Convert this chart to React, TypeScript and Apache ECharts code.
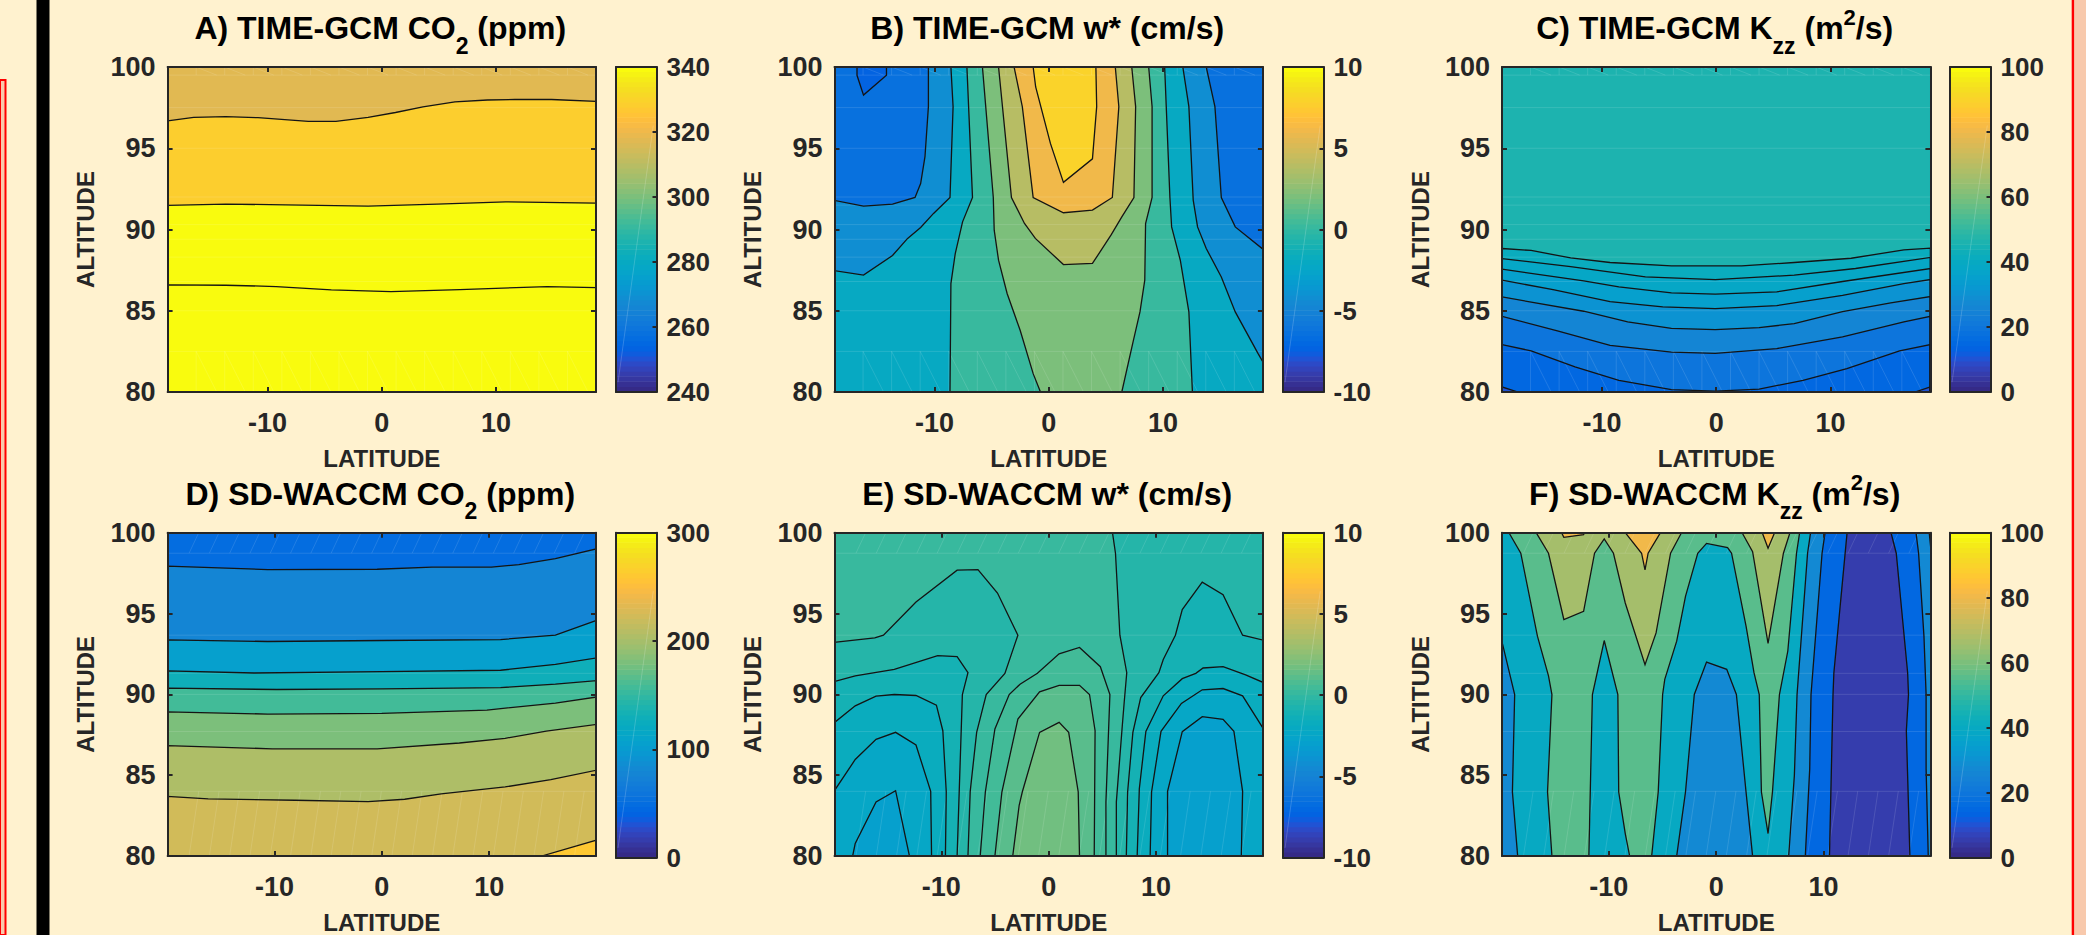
import React, { useEffect, useRef } from "react";
import * as echarts from "echarts";

const FONT = "'Liberation Sans', Arial, sans-serif";
const INK = "#262626";
const PAGE = "#FFF2CF";

const PARULA = [
  [0.2081,0.1663,0.5292],[0.2116,0.1898,0.5777],[0.2123,0.2138,0.627],[0.2081,0.2386,0.6771],[0.1959,0.2645,0.7279],[0.1707,0.2919,0.7792],[0.1253,0.3242,0.8303],[0.0591,0.3598,0.8683],
  [0.0117,0.3875,0.882],[0.006,0.4086,0.8828],[0.0165,0.4266,0.8786],[0.0329,0.443,0.872],[0.0498,0.4586,0.8641],[0.0629,0.4737,0.8554],[0.0723,0.4887,0.8467],[0.0779,0.504,0.8384],
  [0.0793,0.52,0.8312],[0.0749,0.5375,0.8263],[0.0641,0.557,0.824],[0.0488,0.5772,0.8228],[0.0343,0.5966,0.8199],[0.0265,0.6137,0.8135],[0.0239,0.6287,0.8038],[0.0231,0.6418,0.7913],
  [0.0228,0.6535,0.7768],[0.0267,0.6642,0.7607],[0.0384,0.6743,0.7436],[0.059,0.6838,0.7254],[0.0843,0.6928,0.7062],[0.1133,0.7015,0.6859],[0.1453,0.7098,0.6646],[0.1801,0.7177,0.6424],
  [0.2178,0.725,0.6193],[0.2586,0.7317,0.5954],[0.3022,0.7376,0.5712],[0.3482,0.7424,0.5473],[0.3953,0.7459,0.5244],[0.442,0.7481,0.5033],[0.4871,0.7491,0.484],[0.53,0.7491,0.4661],
  [0.5709,0.7485,0.4494],[0.6099,0.7473,0.4337],[0.6473,0.7456,0.4188],[0.6834,0.7435,0.4044],[0.7184,0.7411,0.3905],[0.7525,0.7384,0.3768],[0.7858,0.7356,0.3633],[0.8185,0.7327,0.3498],
  [0.8507,0.7299,0.336],[0.8824,0.7274,0.3217],[0.9139,0.7258,0.3063],[0.945,0.7261,0.2886],[0.9739,0.7314,0.2666],[0.9938,0.7455,0.2403],[0.999,0.7653,0.2164],[0.9955,0.7861,0.1967],
  [0.988,0.8066,0.1794],[0.9789,0.8271,0.1633],[0.9697,0.8481,0.1475],[0.9626,0.8705,0.1309],[0.9589,0.8949,0.1132],[0.9598,0.9218,0.0948],[0.9661,0.9514,0.0755],[0.9763,0.9831,0.0538],
];

type P = number[];
const LAT_TICKS = [-10, 0, 10];
const ALT_RANGE = [80, 100];

// A) TIME-GCM CO2
const A_BANDS: [number, P[]][] = [
  [317.5, [[-18.75,100],[18.75,100],[18.75,80],[-18.75,80]]],
  [329, [[-18.75,96.69],[-16.47,96.9],[-13.65,96.94],[-10.84,96.88],[-6.43,96.65],[-4.02,96.65],[-1.2,96.9],[1.2,97.2],[3.6,97.54],[6.4,97.85],[9.24,97.97],[11.65,98],[14.86,98],[18.75,97.88],[18.75,80],[-18.75,80]]],
  [340, [[-18.75,91.48],[-13.65,91.56],[-8.43,91.52],[-1.2,91.44],[4.82,91.56],[10.84,91.7],[18.75,91.62],[18.75,80],[-18.75,80]]],
  [340, [[-18.75,86.59],[-13.65,86.57],[-9.24,86.49],[-4.42,86.28],[0.8,86.18],[6.83,86.3],[14.46,86.49],[18.75,86.43],[18.75,80],[-18.75,80]]],
];

// B) TIME-GCM w*
const B_BANDS: [number, P[]][] = [
  [-6.5, [[-18.75,100],[18.75,100],[18.75,80],[-18.75,80]]],
  [-7.3, [[-16.78,100],[-16.78,99.49],[-16.21,98.27],[-14.2,99.49],[-14.2,100]]],
  [-4.3, [[-10.53,100],[13.79,100],[14.55,97.56],[15.11,91.97],[16.33,90.16],[18.75,88.79],[18.75,80],[-18.75,80],[-18.75,91.79],[-16.21,91.44],[-13.67,91.56],[-11.7,91.97],[-11.21,92.83],[-10.83,94.48],[-10.53,97.56]]],
  [-2, [[-8.56,100],[11.74,100],[12.27,97.56],[12.65,91.81],[13.03,90.16],[13.79,88.83],[15.11,87.08],[16.33,84.93],[18.33,82.36],[18.75,81.85],[18.75,80],[-18.75,80],[-18.75,87.47],[-16.21,87.19],[-13.67,88.4],[-12.35,89.45],[-11.21,90.12],[-10.08,90.99],[-8.64,91.97],[-8.37,97.56]]],
  [0, [[-7.16,100],[10.15,100],[10.61,91.97],[10.76,90.16],[11.52,88.11],[12.27,84.93],[12.58,80],[-8.64,80],[-8.56,86.67],[-8.18,88.52],[-7.54,90.47],[-6.67,91.97]]],
  [2, [[-5.8,100],[8.75,100],[9.05,97.56],[9.05,91.97],[8.48,90.37],[8.41,86.88],[7.99,84.93],[7.35,82.98],[6.4,80],[-0.72,80],[-1.36,81.13],[-2.5,83.8],[-3.64,86.06],[-4.39,88.11],[-4.77,89.96],[-4.85,91.97]]],
  [4, [[-4.39,100],[7.27,100],[7.61,97.56],[7.46,91.97],[6.4,90.78],[5.45,89.65],[3.83,87.91],[1.29,87.84],[-1.17,89.45],[-2.12,90.37],[-3.26,91.97]]],
  [6, [[-3.03,100],[5.83,100],[6.14,97.56],[5.57,91.97],[3.83,91.19],[1.29,91.03],[-1.36,91.97],[-2.31,97.56]]],
  [8, [[-1.36,100],[4.13,100],[4.2,97.56],[3.83,94.35],[1.29,92.9],[0.15,95.3],[-1.14,98.77]]],
];

// C) TIME-GCM Kzz
const C_BANDS: [number, P[]][] = [
  [46, [[-18.75,100],[18.75,100],[18.75,80],[-18.75,80]]],
  [41, [[-18.75,88.83],[-16.2,88.71],[-12.74,88.25],[-9.29,87.97],[-3.92,87.76],[2.23,87.76],[6.83,87.97],[11.82,88.23],[16.43,88.75],[18.75,88.85],[18.75,80],[-18.75,80]]],
  [38, [[-18.75,88.21],[-12.74,87.72],[-6.2,87.08],[-0.08,86.92],[6.83,87.19],[12.2,87.6],[18.75,88.28],[18.75,80],[-18.75,80]]],
  [35, [[-18.75,87.56],[-11.6,86.84],[-8.52,86.47],[-3.92,86.1],[-0.08,86.02],[5.3,86.16],[11.06,86.8],[18.75,87.6],[18.75,80],[-18.75,80]]],
  [30, [[-18.75,86.88],[-14.28,86.3],[-9.29,85.56],[-4.68,85.24],[-0.08,85.13],[5.3,85.32],[11.06,85.95],[16.43,86.67],[18.75,86.92],[18.75,80],[-18.75,80]]],
  [25, [[-18.75,85.85],[-11.6,84.97],[-7.75,84.31],[-3.92,83.92],[-0.08,83.84],[3.76,83.96],[6.83,84.21],[11.06,84.95],[15.28,85.48],[18.75,85.87],[18.75,80],[-18.75,80]]],
  [20, [[-18.75,84.66],[-13.9,83.76],[-9.29,82.87],[-3.92,82.46],[-0.08,82.38],[5.3,82.67],[11.06,83.39],[16.43,84.31],[18.75,84.66],[18.75,80],[-18.75,80]]],
  [15, [[-18.75,82.92],[-16.2,82.53],[-12.36,81.54],[-8.52,80.72],[-3.92,80.14],[-0.08,80.06],[3.76,80.18],[7.6,80.72],[11.44,81.44],[16.05,82.53],[18.75,82.92],[18.75,80],[-18.75,80]]],
  [10, [[-18.75,80.31],[-17.35,80],[-18.75,80]]],
  [10, [[17.4,80],[18.75,80.31],[18.75,80]]],
];

// D) SD-WACCM CO2
const D_BANDS: [number, P[]][] = [
  [48, [[-20,100],[20,100],[20,80],[-20,80]]],
  [76, [[-20,97.93],[-10.64,97.72],[-0.43,97.74],[4.68,97.87],[10.21,97.87],[12.77,98.03],[16.17,98.4],[20,99],[20,80],[-20,80]]],
  [107, [[-20,93.37],[-10.64,93.27],[0,93.33],[11.06,93.39],[16.17,93.66],[20,94.58],[20,80],[-20,80]]],
  [127, [[-20,91.45],[-11.9,91.32],[0,91.41],[11.06,91.49],[16.17,91.86],[20,92.25],[20,80],[-20,80]]],
  [157, [[-20,90.38],[-9.79,90.3],[0,90.34],[11.06,90.42],[16.17,90.63],[20,90.85],[20,80],[-20,80]]],
  [180, [[-20,88.92],[-10.64,88.78],[0,88.82],[9.79,89.03],[16.17,89.46],[20,89.83],[20,80],[-20,80]]],
  [203, [[-20,86.83],[-10.21,86.63],[-0.43,86.63],[7.23,86.99],[11.49,87.28],[15.32,87.73],[20,88.14],[20,80],[-20,80]]],
  [223, [[-20,83.69],[-16.17,83.53],[-8.09,83.45],[-1.28,83.36],[2.13,83.51],[5.53,83.84],[11.49,84.27],[15.74,84.72],[20,85.31],[20,80],[-20,80]]],
  [258, [[14.89,80],[20,80.98],[20,80]]],
];

// E) SD-WACCM w*
const E_BANDS: [number, P[]][] = [
  [0, [[-20,100],[20,100],[20,80],[-20,80]]],
  [-0.6, [[-20,93.21],[-16.2,93.5],[-15.39,93.66],[-12.36,95.71],[-8.53,97.68],[-6.59,97.72],[-4.77,96.27],[-2.87,93.66],[-4.08,91.3],[-5.82,89.99],[-6.71,87.65],[-7.31,84],[-7.52,80],[-20,80]]],
  [-0.6, [[5.94,100],[6.22,98.73],[6.63,93.66],[7.27,91.34],[7.03,89.5],[6.83,87.86],[6.3,83.34],[6.3,80],[20,80],[20,100]]],
  [-1.2, [[-20,90.79],[-18.02,91.14],[-14.38,91.55],[-10.34,92.39],[-8.53,92.33],[-7.52,91.34],[-8.04,89.99],[-8.53,80],[-20,80]]],
  [-1.8, [[-20,88.23],[-18.02,89.29],[-16.08,89.89],[-14.38,89.99],[-12.36,89.93],[-10.46,89.33],[-9.86,87.75],[-9.54,83.96],[-9.62,80],[-20,80]]],
  [-2.4, [[-20,84],[-18.02,85.97],[-16.08,87.22],[-14.26,87.65],[-12.36,86.87],[-10.99,84],[-10.91,80],[-20,80]]],
  [-2.9, [[-18.26,80],[-18.02,80.78],[-16.08,83.34],[-14.26,84.04],[-12.97,80]]],
  [0.5, [[-6.38,80],[-5.9,83.96],[-5.01,87.86],[-3.68,89.99],[-2.67,90.63],[-1.05,91.3],[0.97,92.51],[2.87,92.9],[4.81,91.71],[5.7,89.99],[5.33,83.34],[5.33,80]]],
  [1, [[-5.01,80],[-4.36,83.96],[-2.87,88.47],[-0.85,90.15],[0.97,90.56],[2.87,90.56],[3.8,89.99],[4.32,87.75],[4.24,80]]],
  [1.6, [[-3.35,80],[-2.75,83.14],[-2.46,83.96],[-0.85,87.65],[0.97,88.27],[1.86,87.65],[2.75,83.96],[2.87,80]]],
  [-1.2, [[7.23,80],[7.35,83.96],[7.84,87.65],[8.57,89.8],[10.26,91.34],[10.67,92.16],[11.8,93.66],[12.44,95.24],[14.3,96.94],[16.24,96.16],[18.06,93.66],[20,93.35],[20,80]]],
  [-1.8, [[8.24,80],[8.44,84.16],[9.05,87.71],[10.67,89.91],[12.44,90.97],[13.7,91.3],[14.38,91.63],[16.24,91.71],[18.34,91.2],[20,90.73],[20,80]]],
  [-2.4, [[9.45,80],[9.58,83.96],[10.46,87.71],[12.36,89.44],[14.3,90.28],[16.24,90.36],[18.06,89.91],[20,87.86],[20,80]]],
  [-2.9, [[11.07,80],[11.07,84],[12.44,87.69],[14.3,88.62],[16.24,88.45],[17.25,87.71],[18.06,84],[17.94,80]]],
];

// F) SD-WACCM Kzz
const F_BANDS: [number, P[]][] = [
  [40, [[-20,100],[20,100],[20,80],[-20,80]]],
  [27, [[-20,93.39],[-18.77,89.99],[-18.98,83.96],[-18.49,80],[-20,80]]],
  [55, [[-19.3,100],[-18.2,98.73],[-16.65,93.6],[-15.62,91.14],[-15.3,89.99],[-15.71,83.96],[-15.3,80],[-11.86,80],[-11.53,89.99],[-10.43,93.33],[-9.16,89.99],[-9.08,83.96],[-8.47,81.39],[-8.06,80],[-6.01,80],[-5.4,83.96],[-4.99,89.99],[-4.79,90.93],[-3.68,93.29],[-2.86,96.06],[-1.72,98.73],[-0.9,99.34],[1.06,99.08],[1.43,98.73],[2.78,94.22],[3.52,91.34],[4.01,89.99],[4.21,83.96],[4.83,81.39],[5.24,83.96],[5.89,89.99],[6.67,92.68],[7.48,98.73],[7.77,100]]],
  [27, [[-3.68,80],[-2.86,83.96],[-2.04,89.99],[-0.9,92],[0.98,91.55],[1.88,89.99],[2.78,83.96],[3.39,80]]],
  [67, [[-16.77,100],[-15.62,98.73],[-14.19,94.63],[-12.35,95.14],[-11.33,98.73],[-10.43,99.61],[-9.57,98.73],[-8.47,95.65],[-6.63,91.84],[-5.6,93.8],[-4.25,98.73],[-3.23,100]]],
  [67, [[2.41,100],[3.39,98.83],[4.83,93.15],[6.26,98.73],[6.87,100]]],
  [80, [[-14.4,100],[-14.19,99.71],[-12.35,99.88],[-12.27,100]]],
  [80, [[-8.47,100],[-6.95,98.73],[-6.63,97.7],[-6.34,98.73],[-5.19,100]]],
  [80, [[4.29,100],[4.83,99.04],[5.44,100]]],
  [27, [[8.79,100],[8.51,98.73],[7.53,89.99],[7.28,84.98],[6.75,80],[20,80],[20,98.93],[19.84,100]]],
  [15, [[10.14,100],[9.86,98.73],[8.83,89.99],[8.71,85.39],[8.3,80],[19.75,80],[19.55,85.39],[19.55,89.99],[19.35,93.6],[18.85,98.73],[18.61,100]]],
  [5, [[12.19,100],[11.98,98.52],[10.96,91.34],[10.88,89.99],[10.55,80],[18.04,80],[17.71,87.75],[17.91,89.99],[17.83,91.34],[16.77,98.73],[16.28,100]]],
];

const TG_MESH_ALTS = [99.5, 97.5, 95, 92, 91.5, 90.3, 89.4, 88.3, 86.8, 85, 82.5];
const TG_MESH_LATS = [-16.25,-13.75,-11.25,-8.75,-6.25,-3.75,-1.25,1.25,3.75,6.25,8.75,11.25,13.75,16.25];
const WC_MESH_ALTS = [98.73, 93.66, 91.3, 90, 87.7, 84];
const WC_MESH_LATS = [-17.95,-16.06,-14.17,-12.28,-10.39,-8.5,-6.61,-4.72,-2.83,-0.94,0.94,2.83,4.72,6.61,8.5,10.39,12.28,14.17,16.06,17.95];

const TG_LIM = 18.75;
const WC_LIM = 19.95;

const PANELS = [
  { title: "{m|A) TIME-GCM CO}{s|2}{m| (ppm)}", box: [167.6, 67], cbX: 616, lim: TG_LIM, cl: [240, 340], step: 20, bands: A_BANDS, tg: true },
  { title: "{m|B) TIME-GCM w* (cm/s)}", box: [834.5, 67], cbX: 1283, lim: TG_LIM, cl: [-10, 10], step: 5, bands: B_BANDS, tg: true },
  { title: "{m|C) TIME-GCM K}{s|zz}{m| (m}{u|2}{m|/s)}", box: [1502, 67], cbX: 1950, lim: TG_LIM, cl: [0, 100], step: 20, bands: C_BANDS, tg: true },
  { title: "{m|D) SD-WACCM CO}{s|2}{m| (ppm)}", box: [167.6, 532.7], cbX: 616, lim: WC_LIM, cl: [0, 300], step: 100, bands: D_BANDS, tg: false },
  { title: "{m|E) SD-WACCM w* (cm/s)}", box: [834.5, 532.7], cbX: 1283, lim: WC_LIM, cl: [-10, 10], step: 5, bands: E_BANDS, tg: false },
  { title: "{m|F) SD-WACCM K}{s|zz}{m| (m}{u|2}{m|/s)}", box: [1502, 532.7], cbX: 1950, lim: WC_LIM, cl: [0, 100], step: 20, bands: F_BANDS, tg: false },
];

const BOX_W = 428.4;
const BOX_H = 325;
const CB_W = 40.5;

function colorOf(v: number, cl: number[]) {
  const i = Math.max(0, Math.min(63, Math.floor(((v - cl[0]) / (cl[1] - cl[0])) * 64)));
  const c = PARULA[i];
  return `rgb(${Math.round(c[0] * 255)},${Math.round(c[1] * 255)},${Math.round(c[2] * 255)})`;
}

function meshSegments(tg: boolean, lim: number): P[][] {
  const alts = tg ? TG_MESH_ALTS : WC_MESH_ALTS;
  const lats = tg ? TG_MESH_LATS : WC_MESH_LATS;
  const segs: P[][] = alts.map((a) => [[-lim, a], [lim, a]]);
  const strips = tg ? [[99.5, 100], [80, 82.5]] : [[98.73, 100], [80, 84]];
  strips.forEach(([lo, hi]) => {
    lats.forEach((la) => {
      if (tg) {
        segs.push([[la, lo], [la, hi]]);
        segs.push([[la, hi], [la + 1.8, lo]]);
      } else {
        segs.push([[la, lo], [la + 0.9, hi]]);
      }
    });
  });
  return segs;
}

function buildOption() {
  const grid: any[] = [];
  const xAxis: any[] = [];
  const yAxis: any[] = [];
  const series: any[] = [];
  const title: any[] = [];
  const line = { show: true, onZero: false, lineStyle: { color: INK, width: 2 } };
  const label = { fontFamily: FONT, fontWeight: "bold" as const, color: INK };

  PANELS.forEach((p, i) => {
    const [left, top] = p.box;
    title.push({
      text: p.title,
      left: left + BOX_W / 2 - 6.5,
      top: top - 73,
      textAlign: "center",
      textStyle: {
        fontFamily: FONT,
        fontWeight: "bold",
        rich: {
          m: { fontFamily: FONT, fontWeight: "bold", fontSize: 32, color: "#000", lineHeight: 58, verticalAlign: "middle" },
          s: { fontFamily: FONT, fontWeight: "bold", fontSize: 23, color: "#000", lineHeight: 23, verticalAlign: "bottom" },
          u: { fontFamily: FONT, fontWeight: "bold", fontSize: 22, color: "#000", lineHeight: 22, verticalAlign: "top", padding: [7, 0, 0, 0] },
        },
      },
    });

    // contour panel
    const g = grid.length;
    grid.push({ left, top, width: BOX_W, height: BOX_H, containLabel: false });
    const ax = 2 * g;
    xAxis.push(
      {
        gridIndex: g, type: "value", min: -p.lim, max: p.lim, position: "bottom", z: 10, splitLine: { show: false }, axisLine: line,
        axisTick: { show: true, inside: true, length: 5, customValues: LAT_TICKS, lineStyle: { color: INK, width: 2 } },
        axisLabel: { ...label, fontSize: 27, margin: 17, customValues: LAT_TICKS, formatter: (v: number) => String(v) },
        name: "LATITUDE", nameLocation: "middle", nameGap: 54, nameTextStyle: { ...label, fontSize: 24 },
      },
      {
        gridIndex: g, type: "value", min: -p.lim, max: p.lim, position: "top", z: 10, splitLine: { show: false }, axisLine: line,
        axisTick: { show: true, inside: true, length: 5, customValues: LAT_TICKS, lineStyle: { color: INK, width: 2 } },
        axisLabel: { show: false },
      }
    );
    yAxis.push(
      {
        gridIndex: g, type: "value", min: ALT_RANGE[0], max: ALT_RANGE[1], interval: 5, position: "left", z: 10, splitLine: { show: false }, axisLine: line,
        axisTick: { show: true, inside: true, length: 5, lineStyle: { color: INK, width: 2 } },
        axisLabel: { ...label, fontSize: 27, margin: 12 },
        name: "ALTITUDE", nameLocation: "middle", nameGap: 70, nameTextStyle: { ...label, fontSize: 24 },
      },
      {
        gridIndex: g, type: "value", min: ALT_RANGE[0], max: ALT_RANGE[1], interval: 5, position: "right", z: 10, splitLine: { show: false }, axisLine: line,
        axisTick: { show: true, inside: true, length: 5, lineStyle: { color: INK, width: 2 } },
        axisLabel: { show: false },
      }
    );

    const mesh = meshSegments(p.tg, p.lim);
    const base = { type: "custom", coordinateSystem: "cartesian2d", xAxisIndex: ax, yAxisIndex: ax, clip: true, silent: true, animation: false };
    series.push({
      ...base, z: 2,
      data: p.bands.map((_, k) => [k, k]),
      renderItem: (params: any, api: any) => {
        const [v, pts] = p.bands[params.dataIndex];
        const fill = colorOf(v, p.cl);
        return { type: "polygon", shape: { points: pts.map((q) => api.coord(q)) }, style: { fill, stroke: fill, lineWidth: 0.4 } };
      },
    });
    series.push({
      ...base, z: 3,
      data: mesh.map((_, k) => [k, k]),
      renderItem: (params: any, api: any) => {
        const [a, b] = mesh[params.dataIndex];
        const s = api.coord(a);
        const e = api.coord(b);
        return { type: "line", shape: { x1: s[0], y1: s[1], x2: e[0], y2: e[1] }, style: { stroke: "rgba(255,255,255,0.12)", lineWidth: 1, fill: "none" } };
      },
    });
    series.push({
      ...base, z: 4,
      data: p.bands.slice(1).map((_, k) => [k, k]),
      renderItem: (params: any, api: any) => {
        const pts = p.bands[params.dataIndex + 1][1];
        return { type: "polygon", shape: { points: pts.map((q) => api.coord(q)) }, style: { fill: "none", stroke: "#141414", lineWidth: 1.3 } };
      },
    });

    // colour bar
    const cg = grid.length;
    grid.push({ left: p.cbX, top, width: CB_W, height: BOX_H, containLabel: false });
    const cax = 2 * cg;
    xAxis.push(
      { gridIndex: cg, type: "value", min: 0, max: 1, position: "bottom", z: 10, splitLine: { show: false }, axisLine: line, axisTick: { show: false }, axisLabel: { show: false } },
      { gridIndex: cg, type: "value", min: 0, max: 1, position: "top", z: 10, splitLine: { show: false }, axisLine: line, axisTick: { show: false }, axisLabel: { show: false } }
    );
    yAxis.push(
      { gridIndex: cg, type: "value", min: p.cl[0], max: p.cl[1], interval: p.step, position: "left", z: 10, splitLine: { show: false }, axisLine: line, axisTick: { show: false }, axisLabel: { show: false } },
      {
        gridIndex: cg, type: "value", min: p.cl[0], max: p.cl[1], interval: p.step, position: "right", z: 10, splitLine: { show: false }, axisLine: line,
        axisTick: { show: true, inside: true, length: 4, lineStyle: { color: INK, width: 2 } },
        axisLabel: { ...label, fontSize: 26, margin: 10 },
      }
    );
    const span = p.cl[1] - p.cl[0];
    series.push({
      type: "custom", coordinateSystem: "cartesian2d", xAxisIndex: cax, yAxisIndex: cax, clip: true, silent: true, z: 2,
      data: PARULA.map((_, k) => [k, k]),
      renderItem: (params: any, api: any) => {
        const k = params.dataIndex;
        const lo = p.cl[0] + (k / 64) * span;
        const hi = p.cl[0] + ((k + 1) / 64) * span;
        const a = api.coord([0, lo]);
        const b = api.coord([1, hi]);
        return { type: "rect", shape: { x: a[0], y: b[1] - 0.6, width: b[0] - a[0], height: a[1] - b[1] + 0.6 }, style: { fill: colorOf(lo + span / 128, p.cl) } };
      },
    });
    series.push({
      type: "custom", coordinateSystem: "cartesian2d", xAxisIndex: cax, yAxisIndex: cax, clip: true, silent: true, z: 3,
      data: [[0, 0]],
      renderItem: (_: any, api: any) => {
        const a = api.coord([0.05, p.cl[0] + 0.03 * span]);
        const b = api.coord([0.92, p.cl[0] + 0.82 * span]);
        return { type: "line", shape: { x1: a[0], y1: a[1], x2: b[0], y2: b[1] }, style: { stroke: "rgba(255,255,255,0.18)", lineWidth: 1, fill: "none" } };
      },
    });
  });

  return {
    animation: false,
    backgroundColor: PAGE,
    title,
    grid,
    xAxis,
    yAxis,
    series,
    graphic: [
      { type: "rect", silent: true, z: 1, shape: { x: 36.5, y: 0, width: 13, height: 935 }, style: { fill: "#000" } },
      { type: "rect", silent: true, z: 1, shape: { x: 0, y: 80, width: 5.5, height: 855 }, style: { fill: "#F8C9AC", stroke: "#FF0000", lineWidth: 2 } },
      { type: "rect", silent: true, z: 1, shape: { x: 2074, y: 0, width: 12, height: 935 }, style: { fill: "#F8C9AC" } },
      { type: "rect", silent: true, z: 1, shape: { x: 2071.7, y: 0, width: 2.4, height: 935 }, style: { fill: "#FF0000" } },
    ],
  };
}

export default function App() {
  const ref = useRef<HTMLDivElement>(null);
  useEffect(() => {
    document.body.style.margin = "0";
    document.body.style.overflow = "hidden";
    const chart = echarts.init(ref.current!, undefined, { renderer: "svg" });
    chart.setOption(buildOption() as any);
    return () => chart.dispose();
  }, []);
  return <div ref={ref} style={{ width: 2086, height: 935 }} />;
}
